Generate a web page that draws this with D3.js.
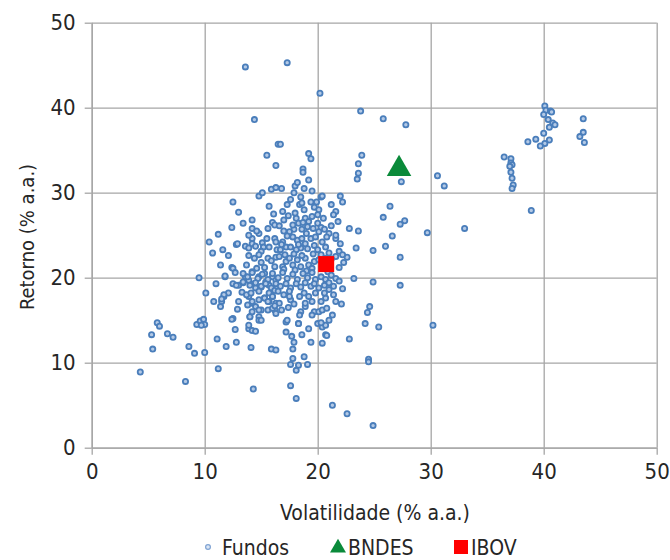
<!DOCTYPE html>
<html>
<head>
<meta charset="utf-8">
<script src="https://cdn.jsdelivr.net/npm/d3@7"></script>
<style>
  body { margin: 0; background: #fff; }
  svg text { font-family: "Liberation Sans Narrow", "DejaVu Sans Condensed", Roboto, sans-serif; fill: #262626; }
</style>
</head>
<body>
<svg id="chart" width="670" height="560"></svg>
<script>
// Retorno x Volatilidade dos fundos, com BNDES e IBOV em destaque

const xTicks = [0, 10, 20, 30, 40, 50];
const yTicks = [0, 10, 20, 30, 40, 50];

// [volatilidade, retorno] de cada fundo
const fundos = [
  // topo, pontos soltos
  [13.6,44.8],[17.3,45.3],[20.2,41.7],[23.8,39.6],[25.8,38.7],[27.8,38.0],[14.4,38.6],[16.5,35.7],
  [15.5,34.4],[16.3,33.2],[16.7,35.7],[19.2,34.6],[19.4,34.0],[23.9,34.4],[23.6,33.4],[18.7,32.8],
  // grupo da direita
  [40.1,40.2],[40.2,39.7],[40.6,39.6],[40.7,39.5],[40.0,39.2],[40.4,38.6],[40.8,38.2],[41.0,38.0],
  [40.5,37.7],[43.5,38.7],[43.5,37.1],[43.2,36.6],[43.6,35.9],[40.0,37.0],[38.6,36.0],[39.3,36.3],
  [40.5,36.2],[40.1,35.8],[39.7,35.5],[36.5,34.2],[37.1,34.0],[37.1,33.5],[37.2,33.3],[37.0,33.1],
  [37.1,32.4],[37.2,31.7],[37.3,30.9],[37.2,30.5],[38.9,27.9],
  // faixa 20-33 à direita do núcleo
  [18.7,32.4],[23.6,32.3],[23.5,31.6],[27.4,31.3],[30.6,32.0],[31.2,30.8],[19.2,31.5],[18.0,30.8],
  [16.8,30.5],[18.8,30.5],[22.0,29.6],[22.2,28.9],[26.4,28.4],[21.6,27.8],[21.4,27.4],[25.8,27.1],
  [27.7,26.7],[27.3,26.3],[22.8,25.8],[23.6,25.5],[29.7,25.3],[33.0,25.8],[26.6,24.9],[26.0,23.7],
  [23.4,23.5],[24.9,23.2],[21.6,24.6],[21.2,26.1],[22.6,22.4],[27.3,22.4],[21.9,21.2],[23.2,19.9],
  [24.9,19.5],[27.3,19.1],[24.6,16.6],[24.4,15.9],
  // esquerda do núcleo
  [12.5,28.9],[12.4,25.9],[10.4,24.2],[10.7,22.9],[12.8,23.9],[11.4,21.5],[12.4,21.2],
  [14.8,29.6],[15.1,30.0],[15.9,30.4],[16.3,30.6],[15.7,28.4],[13.4,26.4],[14.2,26.8],[14.2,25.8],
  [14.8,25.2],[16.0,26.5],[16.2,26.2],[15.6,25.8],[12.9,24.0],[13.6,23.7],[14.2,24.6],[14.2,24.0],
  [13.9,23.5],[14.5,23.7],[15.1,24.1],[15.2,23.6],[15.0,23.1],[16.2,24.6],[16.3,24.2],[16.4,23.3],
  [13.9,22.6],[14.4,22.3],[14.8,22.7],[15.6,22.3],[15.9,22.0],[16.3,22.4],[12.5,21.1],[12.7,20.6],
  [11.8,20.1],[13.7,21.5],[13.6,20.1],[14.2,20.7],[13.9,19.7],[14.4,19.3],[14.8,20.1],[15.3,20.5],
  [15.4,19.5],[15.0,18.9],[14.5,18.8],[16.0,20.1],[16.3,19.7],[15.7,19.1],[12.5,19.3],[13.0,19.1],
  [13.4,19.4],[10.8,17.2],[11.5,17.2],[11.7,17.8],[12.1,18.2],[11.4,16.6],
  [13.9,17.8],[14.2,17.0],[14.8,17.4],[14.5,16.6],[15.3,17.6],[15.7,17.2],[16.0,17.8],[16.3,17.0],
  [16.2,16.2],[15.6,16.2],[15.0,16.2],[12.5,15.2],[14.0,15.4],[14.8,15.4],
  [9.5,20.0],[10.1,18.2],[11.8,20.2],[12.8,19.1],[11.7,18.0],[11.5,17.5],[12.4,15.1],[12.7,13.9],
  [12.8,12.4],[9.3,14.5],[9.6,14.9],[9.9,15.1],[10.0,14.5],[9.7,14.4],
  [13.0,17.2],[12.9,16.3],[13.3,18.3],[12.1,22.6],[11.6,23.3],[11.2,25.1],[13.0,27.7],[11.0,19.3],
  // parte baixa à esquerda
  [5.8,14.7],[6.0,14.3],[5.3,13.3],[5.4,11.6],[6.7,13.4],[7.2,13.0],[4.3,8.9],[8.3,7.8],
  [8.6,11.9],[9.1,11.1],[10.0,11.2],[11.2,9.3],[11.1,12.8],[11.9,11.9],[14.1,11.8],[14.3,6.9],
  [13.9,14.0],[14.2,13.8],[14.5,13.7],[13.9,14.4],[15.9,11.6],[16.3,11.5],[14.8,15.0],
  // parte baixa ao centro
  [17.2,14.8],[18.3,14.6],[17.2,13.6],[17.7,13.1],[17.9,12.4],[18.6,13.3],[19.2,14.0],[20.0,14.6],
  [20.4,14.2],[20.7,14.4],[20.7,13.3],[20.8,13.2],[19.4,12.4],[20.4,12.3],[22.8,12.8],[24.2,14.6],
  [25.4,14.2],[30.2,14.4],[17.8,11.6],[17.8,10.5],[17.6,9.8],[18.3,9.7],[18.1,9.1],[19.1,9.8],
  [18.8,10.7],[24.5,10.4],[24.5,10.1],[17.6,7.3],[18.1,5.8],[21.3,5.0],[22.6,4.0],[24.9,2.6],
  // núcleo, 21-30
  [18.5,29.5],[19.4,28.9],[19.9,28.9],[20.3,29.5],[20.4,29.6],[18.4,28.6],[18.6,28.8],[16.9,27.8],
  [18.8,28.0],[19.7,28.3],[20.1,28.0],[20.0,27.4],[16.6,26.1],[18.1,27.0],[18.3,26.4],[18.9,27.0],
  [19.2,26.6],[19.1,26.0],[18.6,25.7],[17.9,25.7],[17.5,25.4],[20.0,26.4],[20.3,25.9],[20.1,25.4],
  [20.6,25.7],[21.0,25.2],[21.6,25.0],[16.9,24.2],[17.2,23.6],[16.7,23.3],[17.8,24.8],[18.2,24.4],
  [18.6,24.6],[18.9,24.0],[18.5,23.5],[18.1,23.3],[17.6,23.6],[19.4,24.6],[19.7,23.8],[20.0,23.3],
  [20.4,24.2],[20.7,23.6],[21.0,22.9],[20.3,22.7],[16.6,22.5],[17.2,21.9],[16.9,21.3],[17.5,22.3],
  [17.8,21.5],[18.2,22.1],[18.5,21.3],[18.9,22.3],[19.2,21.5],[19.7,21.9],[19.5,21.1],[20.1,22.1],
  [20.4,21.3],[20.7,22.3],[21.6,22.5],[21.9,23.1],[22.2,22.7],[22.3,21.8],
  [17.0,26.8],[17.4,27.3],[17.8,26.2],[18.0,27.6],[18.7,26.5],[19.5,27.2],[19.6,25.8],[20.5,27.0],
  [17.3,24.9],[17.0,25.5],[19.0,25.2],[19.8,24.8],[18.3,23.9],[19.1,23.4],[19.6,22.8],[17.9,22.8],
  [18.6,22.6],[17.1,22.7],[16.8,23.9],[20.8,24.8],[20.9,21.5],[21.2,22.2],[20.9,20.7],[18.0,20.9],
  [17.0,21.0],[19.0,20.8],[16.2,21.3],[15.3,21.2],[15.0,21.8],[14.6,21.1],[15.7,23.6],[15.5,24.6],
  [14.6,25.5],[13.9,25.0],[17.6,29.2],[17.9,30.0],[19.5,30.2],[16.1,27.5],[17.3,28.6],[18.2,31.2],
  [21.2,28.6],[21.8,26.6],[22.0,24.0],
  // núcleo, 14-21
  [13.4,20.5],[13.8,20.1],[14.2,20.6],[14.7,19.9],[15.1,20.4],[15.6,19.8],[16.0,20.5],[16.5,20.0],
  [16.9,20.6],[17.3,19.9],[17.8,20.4],[18.2,19.8],[18.7,20.5],[19.1,20.0],[19.5,20.6],[19.8,19.8],
  [20.3,20.1],[20.7,19.8],[21.2,20.3],[21.6,19.9],
  [13.4,19.5],[14.0,19.1],[14.5,19.4],[15.0,19.0],[15.4,19.3],[15.9,18.8],[16.3,19.3],[16.7,19.0],
  [17.2,19.3],[17.6,18.8],[18.1,19.3],[18.5,18.9],[18.9,19.4],[19.4,19.0],[19.7,19.3],[20.1,18.8],
  [20.6,19.1],[21.0,19.4],[21.4,19.0],
  [13.7,18.0],[14.1,18.2],[14.2,17.2],[13.8,16.8],[14.8,18.4],[15.3,17.6],[15.6,17.2],[15.7,18.2],
  [16.0,17.8],[16.2,18.5],[16.6,17.0],[17.0,18.0],[17.5,18.4],[17.6,17.4],[18.4,17.8],[18.8,18.2],
  [19.2,17.8],[19.5,17.2],[20.3,17.2],[20.7,17.6],[19.8,18.2],[21.0,18.6],
  [14.0,15.4],[14.2,16.0],[14.8,16.2],[15.0,15.0],[16.0,16.4],[16.3,15.8],[16.2,16.7],[18.9,16.6],
  [18.5,16.0],[18.4,15.6],[19.7,16.0],[20.1,16.0],[20.4,16.2],[20.8,16.4],[21.3,15.6],[21.0,15.0],
  [20.3,14.7],[17.3,15.0],[18.3,14.6],
  [21.9,19.6],[21.4,18.0],[21.6,17.2],[22.2,18.7],[22.1,16.9],[20.6,18.2],[16.8,16.2],[17.4,16.5],
  [17.9,16.9],[18.9,17.0],[19.5,15.6],[17.5,17.8],[16.5,18.4]
];

const bndes = [27.2, 32.8];
const ibov = [20.75, 21.6];

const legendItems = ["Fundos", "BNDES", "IBOV"];

// ---------- layout ----------
const M = { left: 91.7, right: 656.7, top: 22.7, bottom: 447.7 };
const GRID = "#a6a6a6";
const FS = 21;

const svg = d3.select("#chart");
const x = d3.scaleLinear().domain([0, 50]).range([M.left, M.right]);
const y = d3.scaleLinear().domain([0, 50]).range([M.bottom, M.top]);

// grade
svg.append("g")
  .attr("transform", `translate(0,${M.bottom})`)
  .call(d3.axisBottom(x).tickValues(xTicks).tickSize(-(M.bottom - M.top)).tickFormat(""))
  .call((g) => g.select(".domain").remove())
  .call((g) => g.selectAll("line").attr("stroke", GRID).attr("stroke-width", 1.3));
svg.append("g")
  .attr("transform", `translate(${M.left},0)`)
  .call(d3.axisLeft(y).tickValues(yTicks).tickSize(-(M.right - M.left)).tickFormat(""))
  .call((g) => g.select(".domain").remove())
  .call((g) => g.selectAll("line").attr("stroke", GRID).attr("stroke-width", 1.3));

// eixos com marcas para fora
const xAxis = svg.append("g")
  .attr("transform", `translate(0,${M.bottom})`)
  .call(d3.axisBottom(x).tickValues(xTicks).tickSize(7).tickSizeOuter(0).tickPadding(9));
const yAxis = svg.append("g")
  .attr("transform", `translate(${M.left},0)`)
  .call(d3.axisLeft(y).tickValues(yTicks).tickSize(7).tickSizeOuter(0).tickPadding(9));
[xAxis, yAxis].forEach((g) => {
  g.select(".domain").attr("stroke", GRID).attr("stroke-width", 1.3);
  g.selectAll("line").attr("stroke", GRID).attr("stroke-width", 1.3);
  g.selectAll("text").attr("font-size", 22).attr("fill", "#262626");
});

// fundos
svg.append("g")
  .selectAll("circle")
  .data(fundos)
  .join("circle")
  .attr("cx", (d) => x(d[0]))
  .attr("cy", (d) => y(d[1]))
  .attr("r", 2.6)
  .attr("fill", "#b3c9e6")
  .attr("stroke", "#4a7ebb")
  .attr("stroke-width", 1.8);

// BNDES e IBOV
svg.append("path")
  .attr("d", d3.symbol(d3.symbolTriangle, 260)())
  .attr("transform", `translate(${x(bndes[0])},${y(bndes[1])})`)
  .attr("fill", "#0a8a3a");
svg.append("rect")
  .attr("x", x(ibov[0]) - 8).attr("y", y(ibov[1]) - 8)
  .attr("width", 16).attr("height", 16)
  .attr("fill", "#ff0000");

// títulos
svg.append("text")
  .attr("x", 375).attr("y", 520)
  .attr("text-anchor", "middle").attr("font-size", FS)
  .text("Volatilidade (% a.a.)");
svg.append("text")
  .attr("transform", "translate(34,237) rotate(-90)")
  .attr("text-anchor", "middle").attr("font-size", FS - 1)
  .text("Retorno (% a.a.)");

// legenda
const lg = svg.append("g").attr("transform", "translate(0,547)");
const legX = [222, 348, 471];
lg.append("circle").attr("cx", 208).attr("cy", 0).attr("r", 2.4)
  .attr("fill", "#dbe6f4").attr("stroke", "#7fa3d3").attr("stroke-width", 1.2);
lg.append("path").attr("d", d3.symbol(d3.symbolTriangle, 110)()).attr("transform", "translate(338,1)").attr("fill", "#0a8a3a");
lg.append("rect").attr("x", 454).attr("y", -7).attr("width", 14).attr("height", 14).attr("fill", "#ff0000");
lg.selectAll("text.leg")
  .data(legendItems)
  .join("text")
  .attr("class", "leg")
  .attr("x", (d, i) => legX[i])
  .attr("y", 0)
  .attr("dy", "0.36em")
  .attr("font-size", FS)
  .text((d) => d);
</script>
</body>
</html>
